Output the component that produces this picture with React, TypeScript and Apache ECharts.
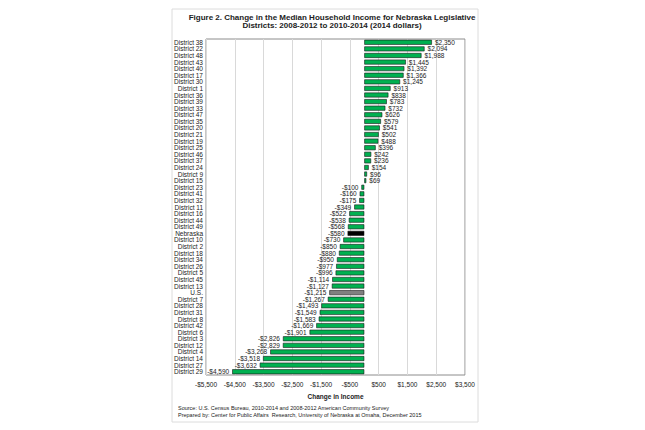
import React, { useEffect, useRef } from "react";
import * as echarts from "echarts";

const categories = [
  "District 38", "District 22", "District 48", "District 43", "District 40", "District 17",
  "District 30", "District 1", "District 36", "District 39", "District 33", "District 47",
  "District 35", "District 20", "District 21", "District 19", "District 25", "District 46",
  "District 37", "District 24", "District 9", "District 15", "District 23", "District 41",
  "District 32", "District 11", "District 16", "District 44", "District 49", "Nebraska",
  "District 10", "District 2", "District 18", "District 34", "District 26", "District 5",
  "District 45", "District 13", "U.S.", "District 7", "District 28", "District 31",
  "District 8", "District 42", "District 6", "District 3", "District 12", "District 4",
  "District 14", "District 27", "District 29",
];

const changeInIncome = [
  2350, 2094, 1988, 1445, 1392, 1366,
  1245, 913, 838, 783, 732, 626,
  579, 541, 502, 488, 396, 242,
  236, 154, 96, 69, -100, -160,
  -175, -349, -522, -538, -568, -580,
  -730, -850, -880, -950, -977, -996,
  -1114, -1127, -1215, -1267, -1493, -1549,
  -1583, -1669, -1901, -2826, -2829, -3268,
  -3518, -3632, -4590,
];

const titleLines = [
  "Figure 2. Change in the Median Household Income for Nebraska Legislative",
  "Districts: 2008-2012 to 2010-2014 (2014 dollars)",
];
const sourceLines = [
  "Source: U.S. Census Bureau, 2010-2014 and 2008-2012 American Community Survey",
  "Prepared by: Center for Public Affairs  Research, University of Nebraska at Omaha, December 2015",
];
const xAxisName = "Change in Income";

const FONT = "'Liberation Sans', Arial, sans-serif";

function money(v: number): string {
  const s = "$" + Math.abs(v).toLocaleString("en-US");
  return v < 0 ? "-" + s : s;
}

export default function App() {
  const ref = useRef<HTMLDivElement>(null);
  useEffect(() => {
    if (!ref.current) return;
    const chart = echarts.init(ref.current, undefined, { renderer: "svg" });
    const data = changeInIncome.map((v, i) => {
      const name = categories[i];
      let color = "#00b050";
      if (name === "Nebraska") color = "#000000";
      if (name === "U.S.") color = "#808080";
      return {
        value: v,
        itemStyle: { color },
        label: { position: v < 0 ? "left" : "right" },
      };
    });
    chart.setOption({
      animation: false,
      backgroundColor: "#ffffff",
      textStyle: { fontFamily: FONT },
      title: {
        text: titleLines.join("\n"),
        left: 327,
        textAlign: "center",
        top: 8,
        textStyle: { fontSize: 8, fontWeight: "bold", color: "#222", lineHeight: 8.5, fontFamily: FONT },
      },
      grid: {
        left: 206,
        right: 180,
        top: 39,
        bottom: 55,
        show: true,
        borderColor: "#8c8c8c",
        borderWidth: 1,
        containLabel: false,
      },
      xAxis: {
        type: "value",
        min: -5500,
        max: 3500,
        interval: 1000,
        axisLine: { show: false },
        axisTick: { show: false },
        splitLine: { show: true, lineStyle: { color: "#d9d9d9", width: 1 } },
        axisLabel: {
          formatter: (v: number) => money(v),
          fontSize: 6.5,
          color: "#222",
          margin: 6,
          fontFamily: FONT,
        },
        name: xAxisName,
        nameLocation: "middle",
        nameGap: 13,
        nameTextStyle: { fontSize: 6.5, fontWeight: "bold", color: "#222", fontFamily: FONT },
      },
      yAxis: {
        type: "category",
        data: categories,
        inverse: true,
        axisLine: { show: false, onZero: false },
        axisTick: { show: false },
        splitLine: { show: false },
        axisLabel: {
          interval: 0,
          fontSize: 6.5,
          color: "#222",
          margin: 3,
          fontFamily: FONT,
        },
      },
      series: [
        {
          type: "bar",
          data,
          barCategoryGap: "25%",
          itemStyle: { borderColor: "#1a1a1a", borderWidth: 0.6 },
          label: {
            show: true,
            formatter: (p: any) => money(p.value),
            fontSize: 6.5,
            color: "#222",
            distance: 3,
            fontFamily: FONT,
          },
        },
      ],
      graphic: [
        {
          type: "rect",
          shape: { x: 172, y: 9, width: 306, height: 413 },
          style: { fill: "none", stroke: "#dcdcdc", lineWidth: 1 },
          silent: true,
          z: -1,
        },
        {
          type: "text",
          left: 178,
          top: 405,
          style: {
            text: sourceLines.join("\n"),
            fontSize: 5.5,
            lineHeight: 6.5,
            fill: "#222",
            fontFamily: FONT,
          },
        },
      ],
    });
    return () => chart.dispose();
  }, []);
  return (
    <div
      ref={ref}
      style={{ position: "fixed", left: 0, top: 0, width: 645, height: 430 }}
    />
  );
}
